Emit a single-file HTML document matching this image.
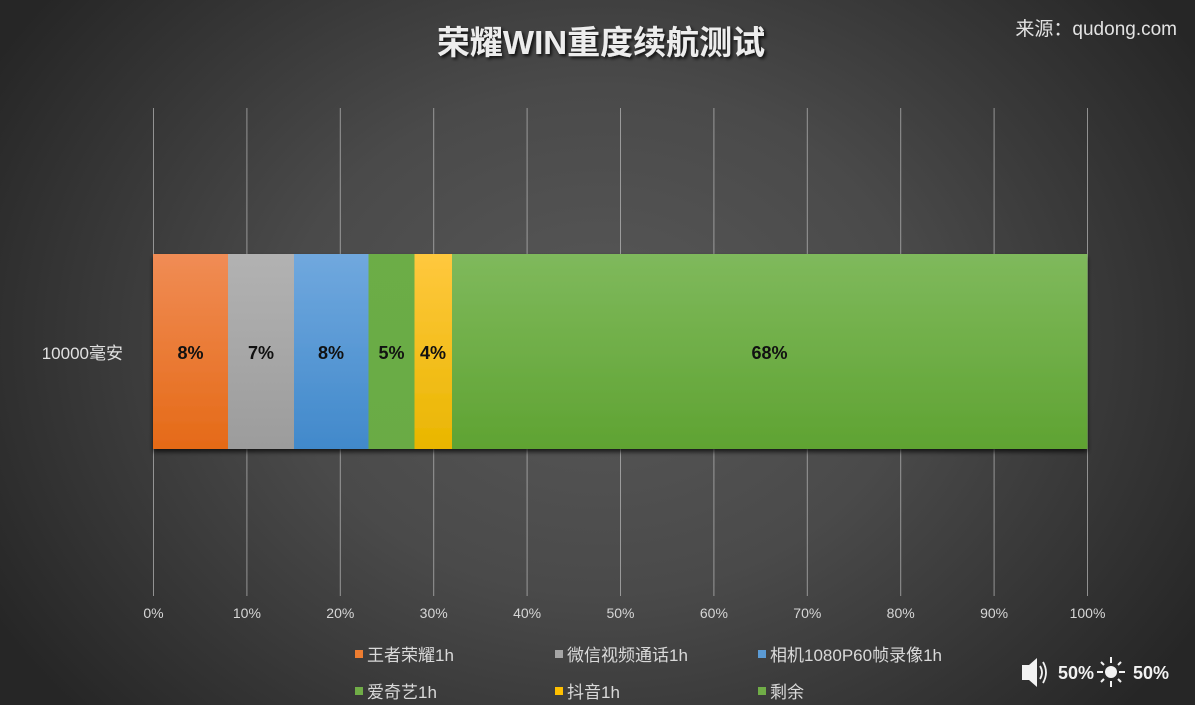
<!DOCTYPE html>
<html><head><meta charset="utf-8"><style>
html,body{margin:0;padding:0;background:#333;}
body{width:1195px;height:705px;overflow:hidden;}
svg{display:block;}
text{font-family:"Liberation Sans","Noto Sans CJK SC",sans-serif;}
</style></head><body>
<svg width="1195" height="705" viewBox="0 0 1195 705" xmlns="http://www.w3.org/2000/svg">
<defs>
<radialGradient id="bg" cx="600" cy="340" r="700" gradientUnits="userSpaceOnUse" gradientTransform="translate(600 340) scale(1 0.8) translate(-600 -340)">
<stop offset="0" stop-color="#585858"/>
<stop offset="0.45" stop-color="#4a4a4a"/>
<stop offset="1" stop-color="#262626"/>
</radialGradient>
<linearGradient id="gO" x1="0" y1="0" x2="0" y2="1"><stop offset="0" stop-color="#f08c55"/><stop offset="1" stop-color="#e56a17"/></linearGradient>
<linearGradient id="gG" x1="0" y1="0" x2="0" y2="1"><stop offset="0" stop-color="#b2b2b2"/><stop offset="1" stop-color="#9c9c9c"/></linearGradient>
<linearGradient id="gB" x1="0" y1="0" x2="0" y2="1"><stop offset="0" stop-color="#70a8de"/><stop offset="1" stop-color="#4189cb"/></linearGradient>
<linearGradient id="gN" x1="0" y1="0" x2="0" y2="1"><stop offset="0" stop-color="#6cad46"/><stop offset="1" stop-color="#6aab45"/></linearGradient>
<linearGradient id="gY" x1="0" y1="0" x2="0" y2="1"><stop offset="0" stop-color="#ffc83e"/><stop offset="1" stop-color="#e9b600"/></linearGradient>
<linearGradient id="gR" x1="0" y1="0" x2="0" y2="1"><stop offset="0" stop-color="#7fb95c"/><stop offset="1" stop-color="#5fa332"/></linearGradient>
<filter id="sh" x="-5%" y="-10%" width="110%" height="125%"><feGaussianBlur in="SourceAlpha" stdDeviation="2.5"/><feOffset dx="0" dy="3"/><feComponentTransfer><feFuncA type="linear" slope="0.7"/></feComponentTransfer><feMerge><feMergeNode/><feMergeNode in="SourceGraphic"/></feMerge></filter>
<filter id="ts"><feGaussianBlur in="SourceAlpha" stdDeviation="1.5"/><feOffset dx="2" dy="2"/><feComponentTransfer><feFuncA type="linear" slope="0.8"/></feComponentTransfer><feMerge><feMergeNode/><feMergeNode in="SourceGraphic"/></feMerge></filter>
</defs>
<rect width="1195" height="705" fill="url(#bg)"/>

<text x="601" y="54" text-anchor="middle" font-size="33" font-weight="bold" fill="#ededed" filter="url(#ts)">荣耀WIN重度续航测试</text>
<text x="1177" y="35" text-anchor="end" font-size="19" fill="#e2e2e2">来源：qudong.com</text>

<g stroke="#c4c4c4" stroke-width="1" opacity="0.65">
<line x1="153.5" y1="108" x2="153.5" y2="596"/>
<line x1="246.9" y1="108" x2="246.9" y2="596"/>
<line x1="340.3" y1="108" x2="340.3" y2="596"/>
<line x1="433.7" y1="108" x2="433.7" y2="596"/>
<line x1="527.1" y1="108" x2="527.1" y2="596"/>
<line x1="620.5" y1="108" x2="620.5" y2="596"/>
<line x1="713.9" y1="108" x2="713.9" y2="596"/>
<line x1="807.3" y1="108" x2="807.3" y2="596"/>
<line x1="900.7" y1="108" x2="900.7" y2="596"/>
<line x1="994.1" y1="108" x2="994.1" y2="596"/>
<line x1="1087.5" y1="108" x2="1087.5" y2="596"/>
</g>

<g filter="url(#sh)">
<rect x="153" y="254" width="75" height="195" fill="url(#gO)"/>
<rect x="228" y="254" width="66" height="195" fill="url(#gG)"/>
<rect x="294" y="254" width="74.5" height="195" fill="url(#gB)"/>
<rect x="368.5" y="254" width="46" height="195" fill="url(#gN)"/>
<rect x="414.5" y="254" width="37.5" height="195" fill="url(#gY)"/>
<rect x="452" y="254" width="635.5" height="195" fill="url(#gR)"/>
</g>

<g font-size="18" font-weight="bold" fill="#111" text-anchor="middle">
<text x="190.5" y="359">8%</text>
<text x="261" y="359">7%</text>
<text x="331" y="359">8%</text>
<text x="391.5" y="359">5%</text>
<text x="433" y="359">4%</text>
<text x="769.5" y="359">68%</text>
</g>

<text x="123" y="359" text-anchor="end" font-size="17" fill="#e0e0e0">10000毫安</text>

<g font-size="14" fill="#d6d6d6" text-anchor="middle">
<text x="153.5" y="618">0%</text>
<text x="246.9" y="618">10%</text>
<text x="340.3" y="618">20%</text>
<text x="433.7" y="618">30%</text>
<text x="527.1" y="618">40%</text>
<text x="620.5" y="618">50%</text>
<text x="713.9" y="618">60%</text>
<text x="807.3" y="618">70%</text>
<text x="900.7" y="618">80%</text>
<text x="994.1" y="618">90%</text>
<text x="1087.5" y="618">100%</text>
</g>

<g font-size="17" fill="#d9d9d9">
<rect x="355" y="650" width="8" height="8" fill="#ed7d31"/>
<text x="367" y="661">王者荣耀1h</text>
<rect x="555" y="650" width="8" height="8" fill="#a5a5a5"/>
<text x="567" y="661">微信视频通话1h</text>
<rect x="758" y="650" width="8" height="8" fill="#5b9bd5"/>
<text x="770" y="661">相机1080P60帧录像1h</text>
<rect x="355" y="687" width="8" height="8" fill="#70ad47"/>
<text x="367" y="698">爱奇艺1h</text>
<rect x="555" y="687" width="8" height="8" fill="#ffc000"/>
<text x="567" y="698">抖音1h</text>
<rect x="758" y="687" width="8" height="8" fill="#70ad47"/>
<text x="770" y="698">剩余</text>
</g>

<g fill="#f2f2f2">
<path d="M1022 665 L1029 665 L1037 658 L1037 687 L1029 680 L1022 680 Z"/>
<path d="M1040 666 Q1044 672.5 1040 679" stroke="#f2f2f2" stroke-width="1.8" fill="none"/>
<path d="M1043 662 Q1049 672.5 1043 683" stroke="#f2f2f2" stroke-width="1.8" fill="none"/>
<text x="1058" y="679" font-size="18" font-weight="bold">50%</text>
<circle cx="1111" cy="672" r="6"/>
<g stroke="#f2f2f2" stroke-width="2">
<line x1="1111" y1="657" x2="1111" y2="663"/>
<line x1="1111" y1="681" x2="1111" y2="687"/>
<line x1="1097" y1="672" x2="1103" y2="672"/>
<line x1="1119" y1="672" x2="1125" y2="672"/>
<line x1="1101" y1="662" x2="1104" y2="665"/>
<line x1="1118" y1="679" x2="1121" y2="682"/>
<line x1="1101" y1="682" x2="1104" y2="679"/>
<line x1="1118" y1="665" x2="1121" y2="662"/>
</g>
<text x="1133" y="679" font-size="18" font-weight="bold">50%</text>
</g>
</svg>
</body></html>
